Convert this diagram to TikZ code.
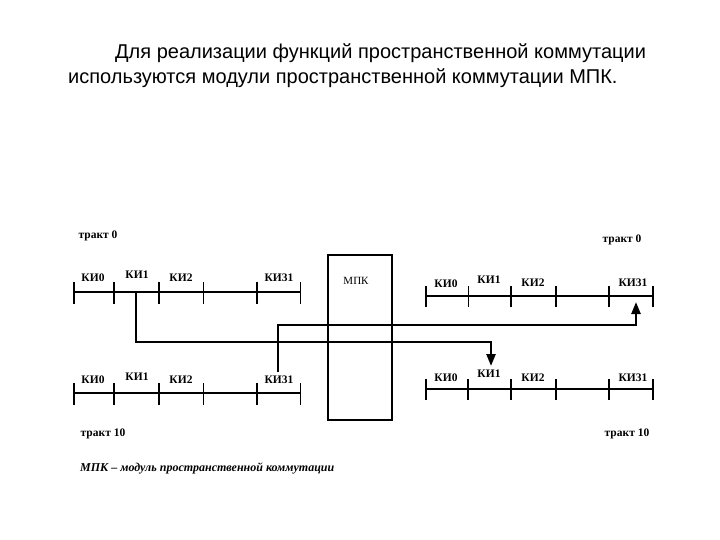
\documentclass[tikz,border=0pt]{standalone}
\usepackage{fontspec}
\setmainfont{Liberation Serif}
\newfontfamily\titlefont{Liberation Sans}
\usetikzlibrary{arrows.meta}
\begin{document}
\begin{tikzpicture}[x=1pt,y=-1pt,
  trackline/.style={line width=2.2pt},
  thicktick/.style={line width=2.4pt},
  thintick/.style={line width=0.9pt},
  conn/.style={line width=2.4pt},
  lbl/.style={font=\fontsize{11.5}{12}\selectfont\bfseries, inner sep=0pt, anchor=base},
  trk/.style={font=\fontsize{11.5}{12}\selectfont\bfseries, inner sep=0pt, anchor=base},
  ttl/.style={font=\titlefont\fontsize{20}{24}\selectfont, inner sep=0pt, anchor=base west},
  arr/.style={-{Triangle[width=9pt,length=12pt]}}
]
\useasboundingbox (0,0) rectangle (720,540);
% title
\node[ttl] (t1) at (115,59) {Для реализации функций пространственной коммутации};
\node[ttl] (t2) at (68,84) {используются модули пространственной коммутации МПК.};
% track labels
\node[trk] (tr0l) at (98,238) {тракт 0};
\node[trk] (tr0r) at (622,243) {тракт 0};
\node[trk] (tr10l) at (103,436) {тракт 10};
\node[trk] (tr10r) at (627,436) {тракт 10};
% MPK box
\node[draw, line width=2.4pt, minimum width=64pt, minimum height=165pt, inner sep=0pt] (mpk) at (360,337.5) {};
\node[font=\fontsize{11}{12}\selectfont, inner sep=0pt, anchor=base] (mpkl) at (356,284) {МПК};
% top-left track
\coordinate (a0) at (74,292); \coordinate (a1) at (114,292); \coordinate (a2) at (159,292);
\coordinate (a3) at (203,292); \coordinate (a4) at (257,292); \coordinate (a5) at (300,292);
\draw[trackline] (a0) -- (a5);
\foreach \p/\s in {a0/thicktick,a1/thicktick,a2/thicktick,a3/thintick,a4/thicktick,a5/thintick}
  \draw[\s] ([yshift=-12pt]\p) -- ([yshift=10pt]\p);
\node[lbl] (la0) at (93,281) {КИ0};
\node[lbl] (la1) at (137,278) {КИ1};
\node[lbl] (la2) at (181,281) {КИ2};
\node[lbl] (la4) at (279,281) {КИ31};
% bottom-left track
\coordinate (b0) at (74,393); \coordinate (b1) at (114,393); \coordinate (b2) at (159,393);
\coordinate (b3) at (203,393); \coordinate (b4) at (257,393); \coordinate (b5) at (300,393);
\draw[trackline] (b0) -- (b5);
\foreach \p/\s in {b0/thicktick,b1/thicktick,b2/thicktick,b3/thintick,b4/thicktick,b5/thintick}
  \draw[\s] ([yshift=-12pt]\p) -- ([yshift=10pt]\p);
\node[lbl] (lb0) at (93,383) {КИ0};
\node[lbl] (lb1) at (137,380) {КИ1};
\node[lbl] (lb2) at (181,383) {КИ2};
\node[lbl] (lb4) at (279,383) {КИ31};
% top-right track
\coordinate (c0) at (426,296); \coordinate (c1) at (468,296); \coordinate (c2) at (511,296);
\coordinate (c3) at (556,296); \coordinate (c4) at (609,296); \coordinate (c5) at (653,296);
\draw[trackline] (c0) -- (c5);
\foreach \p/\s in {c0/thicktick,c1/thintick,c2/thicktick,c3/thicktick,c4/thicktick,c5/thicktick}
  \draw[\s] ([yshift=-11pt]\p) -- ([yshift=10pt]\p);
\node[lbl] (lc0) at (446,287) {КИ0};
\node[lbl] (lc1) at (489,283) {КИ1};
\node[lbl] (lc2) at (533,286) {КИ2};
\node[lbl] (lc4) at (633,286) {КИ31};
% bottom-right track
\coordinate (d0) at (426,389); \coordinate (d1) at (468,389); \coordinate (d2) at (511,389);
\coordinate (d3) at (556,389); \coordinate (d4) at (609,389); \coordinate (d5) at (653,389);
\draw[trackline] (d0) -- (d5);
\foreach \p/\s in {d0/thicktick,d1/thicktick,d2/thicktick,d3/thicktick,d4/thicktick,d5/thicktick}
  \draw[\s] ([yshift=-11pt]\p) -- ([yshift=10pt]\p);
\node[lbl] (ld0) at (446,381) {КИ0};
\node[lbl] (ld1) at (489,377) {КИ1};
\node[lbl] (ld2) at (533,381) {КИ2};
\node[lbl] (ld4) at (633,381) {КИ31};
% connectors
\coordinate (s1) at (136,292);
\coordinate (e1) at (491,366);
\draw[conn, arr] (s1) |- (491,342) -- (e1);
\coordinate (s2) at (278,372);
\coordinate (e2) at (636,302);
\draw[conn, arr] (s2) |- (636,325) -- (e2);
% caption
\node[font=\fontsize{12}{14}\selectfont\bfseries\itshape, inner sep=0pt, anchor=base west] (cap) at (80,471) {МПК -- модуль пространственной коммутации};
\end{tikzpicture}
\end{document}
